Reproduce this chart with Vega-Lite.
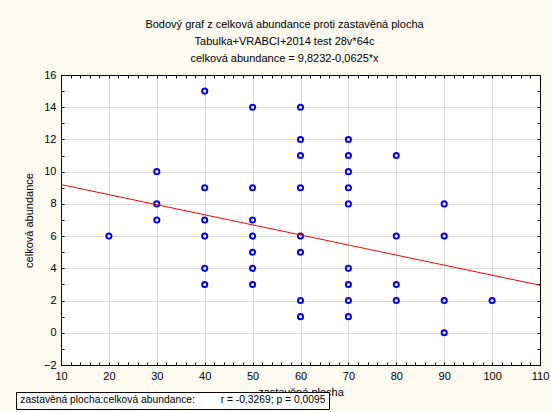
{
  "$schema": "https://vega.github.io/schema/vega-lite/v6.json",
  "width": 479,
  "height": 290,
  "autosize": {"type": "none"},
  "padding": {"left": 61, "top": 75, "right": 11, "bottom": 47},
  "title": {
    "text": [
      "Bodový graf z celková abundance proti zastavěná plocha",
      "Tabulka+VRABCI+2014 test 28v*64c",
      "celková abundance = 9,8232-0,0625*x"
    ],
    "anchor": "middle",
    "frame": "group",
    "dx": -16,
    "offset": 5,
    "lineHeight": 17,
    "font": "Liberation Sans",
    "fontSize": 11,
    "fontWeight": "normal",
    "color": "black"
  },
  "datasets": {
    "points": [
      {"zastavena": 20, "abundance": 6},
      {"zastavena": 30, "abundance": 10},
      {"zastavena": 30, "abundance": 8},
      {"zastavena": 30, "abundance": 7},
      {"zastavena": 40, "abundance": 15},
      {"zastavena": 40, "abundance": 9},
      {"zastavena": 40, "abundance": 7},
      {"zastavena": 40, "abundance": 6},
      {"zastavena": 40, "abundance": 4},
      {"zastavena": 40, "abundance": 3},
      {"zastavena": 50, "abundance": 14},
      {"zastavena": 50, "abundance": 9},
      {"zastavena": 50, "abundance": 7},
      {"zastavena": 50, "abundance": 6},
      {"zastavena": 50, "abundance": 5},
      {"zastavena": 50, "abundance": 4},
      {"zastavena": 50, "abundance": 3},
      {"zastavena": 60, "abundance": 14},
      {"zastavena": 60, "abundance": 12},
      {"zastavena": 60, "abundance": 11},
      {"zastavena": 60, "abundance": 9},
      {"zastavena": 60, "abundance": 6},
      {"zastavena": 60, "abundance": 5},
      {"zastavena": 60, "abundance": 2},
      {"zastavena": 60, "abundance": 1},
      {"zastavena": 70, "abundance": 12},
      {"zastavena": 70, "abundance": 11},
      {"zastavena": 70, "abundance": 10},
      {"zastavena": 70, "abundance": 9},
      {"zastavena": 70, "abundance": 8},
      {"zastavena": 70, "abundance": 4},
      {"zastavena": 70, "abundance": 3},
      {"zastavena": 70, "abundance": 2},
      {"zastavena": 70, "abundance": 1},
      {"zastavena": 80, "abundance": 11},
      {"zastavena": 80, "abundance": 6},
      {"zastavena": 80, "abundance": 3},
      {"zastavena": 80, "abundance": 2},
      {"zastavena": 90, "abundance": 8},
      {"zastavena": 90, "abundance": 6},
      {"zastavena": 90, "abundance": 2},
      {"zastavena": 90, "abundance": 0},
      {"zastavena": 100, "abundance": 2}
    ],
    "fit": [
      {"zastavena": 10, "abundance": 9.1982},
      {"zastavena": 110, "abundance": 2.9482}
    ]
  },
  "layer": [
    {
      "data": {"name": "points"},
      "mark": {"type": "point", "shape": "circle", "filled": false, "fill": "white", "color": "#0000FF", "strokeWidth": 2, "size": 26, "opacity": 1},
      "encoding": {
        "x": {
          "field": "zastavena",
          "type": "quantitative",
          "scale": {"domain": [10, 110], "nice": false, "zero": false},
          "axis": {
            "orient": "bottom",
            "title": "zastavěná plocha",
            "values": [10,12,14,16,18,20,22,24,26,28,30,32,34,36,38,40,42,44,46,48,50,52,54,56,58,60,62,64,66,68,70,72,74,76,78,80,82,84,86,88,90,92,94,96,98,100,102,104,106,108,110],
            "labelExpr": "datum.value % 10 === 0 ? datum.label : ''",
            "gridColor": {"condition": {"test": "datum.value % 10 === 0", "value": "#DADADA"}, "value": "transparent"},
            "titlePadding": 5
          }
        },
        "y": {
          "field": "abundance",
          "type": "quantitative",
          "scale": {"domain": [-2, 16], "nice": false, "zero": false},
          "axis": {
            "orient": "left",
            "title": "celková abundance",
            "values": [-2,-1,0,1,2,3,4,5,6,7,8,9,10,11,12,13,14,15,16],
            "labelExpr": "datum.value % 2 === 0 ? datum.label : ''",
            "gridColor": {"condition": {"test": "datum.value % 2 === 0", "value": "#DADADA"}, "value": "transparent"},
            "titlePadding": 9
          }
        }
      }
    },
    {
      "data": {"name": "fit"},
      "mark": {"type": "line", "strokeWidth": 1, "clip": true},
      "encoding": {
        "x": {
          "field": "zastavena",
          "type": "quantitative",
          "scale": {"domain": [10, 110], "nice": false, "zero": false},
          "axis": {
            "orient": "top",
            "title": null,
            "labels": false,
            "grid": false,
            "values": [10,12,14,16,18,20,22,24,26,28,30,32,34,36,38,40,42,44,46,48,50,52,54,56,58,60,62,64,66,68,70,72,74,76,78,80,82,84,86,88,90,92,94,96,98,100,102,104,106,108,110]
          }
        },
        "y": {
          "field": "abundance",
          "type": "quantitative",
          "scale": {"domain": [-2, 16], "nice": false, "zero": false},
          "axis": {
            "orient": "right",
            "title": null,
            "labels": false,
            "grid": false,
            "values": [-2,-1,0,1,2,3,4,5,6,7,8,9,10,11,12,13,14,15,16]
          }
        },
        "stroke": {
          "datum": "zastavěná plocha:celková abundance:\u00a0\u00a0\u00a0\u00a0\u00a0\u00a0\u00a0\u00a0\u00a0r = -0,3269; p = 0,0095",
          "type": "nominal",
          "scale": {"range": ["#FF0000"]},
          "legend": {
            "orient": "none",
            "legendX": -45,
            "legendY": 317,
            "title": null,
            "padding": 3,
            "strokeColor": "black",
            "fillColor": "white",
            "symbolType": "circle",
            "symbolSize": 0,
            "symbolStrokeWidth": 0,
            "symbolOpacity": 0,
            "labelOffset": -9,
            "labelLimit": 0,
            "labelFont": "Liberation Sans",
            "labelFontSize": 10.3,
            "labelColor": "black"
          }
        }
      }
    }
  ],
  "resolve": {"axis": {"x": "independent", "y": "independent"}},
  "config": {
    "background": "#FDFAF0",
    "view": {"fill": "white", "stroke": "black", "strokeWidth": 1},
    "axis": {
      "domainColor": "black",
      "domainWidth": 1,
      "tickColor": "black",
      "tickSize": -3,
      "tickWidth": 1,
      "labelFont": "Liberation Sans",
      "labelFontSize": 11,
      "labelColor": "black",
      "labelPadding": 8,
      "labelFlush": false,
      "labelOverlap": false,
      "titleFont": "Liberation Sans",
      "titleFontSize": 11,
      "titleFontWeight": "normal",
      "titleColor": "black",
      "gridWidth": 1
    }
  }
}
